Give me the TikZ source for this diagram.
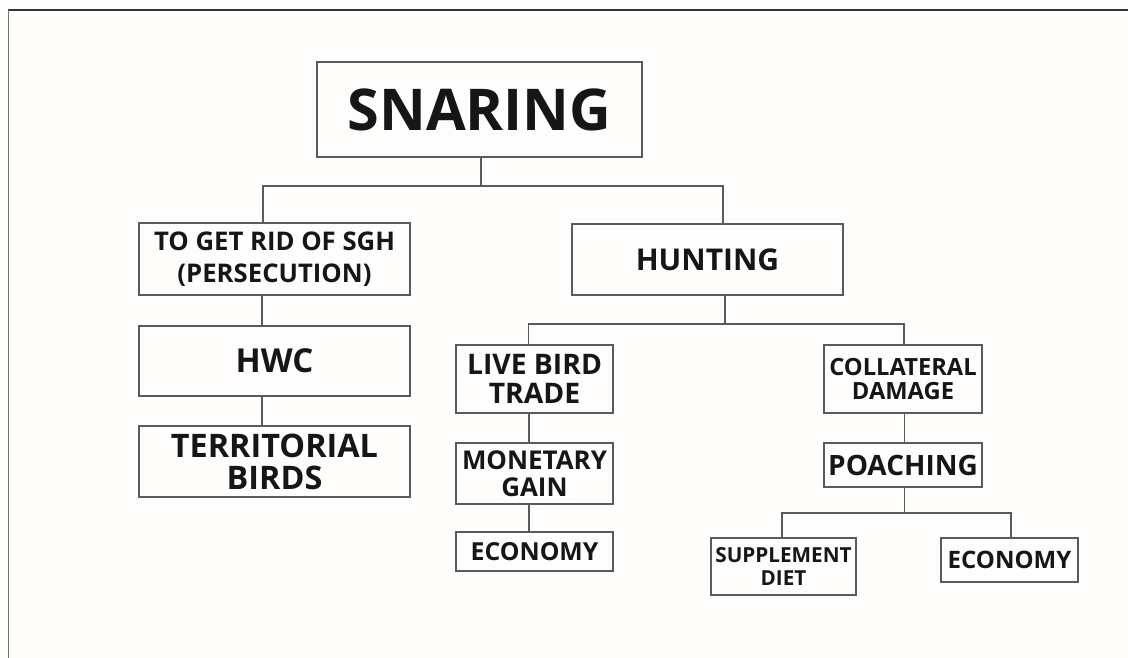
\documentclass[tikz,border=0pt]{standalone}
\usepackage{fontspec}
\setmainfont{Open Sans}
\definecolor{bg}{HTML}{FEFDFB}
\definecolor{ln}{HTML}{5A5A5A}
\definecolor{txt}{HTML}{161616}
\newcommand{\fs}[2]{\fontsize{#1}{#2}\selectfont\bfseries}
\begin{document}
\begin{tikzpicture}[x=1pt,y=-1pt,
  box/.style={draw=ln, line width=1.2pt, fill=bg, inner sep=0pt, align=center, text=txt},
  conn/.style={draw=ln, line width=1.2pt}]
\useasboundingbox[fill=bg] (0,0) rectangle (1128,658);
% frame
\draw[line width=1.4pt, draw=black!80] (8,10) -- (1128,10);
\draw[line width=1.4pt, draw=black!55] (8.5,10) -- (8.5,658);
% nodes
\node[box, minimum width=325, minimum height=95, font=\fs{57.6}{70}] (root) at (479.5,109.5) {SNARING};
\node[box, minimum width=271, minimum height=72, font=\fs{25.7}{31.7}] (persec) at (274.5,259) {TO GET RID OF SGH\\(PERSECUTION)};
\node[box, minimum width=271, minimum height=70, font=\fs{33}{38}] (hwc) at (274.5,361) {HWC};
\node[box, minimum width=271, minimum height=71, font=\fs{32.4}{32}] (terr) at (274.5,461.5) {TERRITORIAL\\BIRDS};
\node[box, minimum width=271, minimum height=71, font=\fs{30}{36}] (hunt) at (707.5,259.5) {HUNTING};
\node[box, minimum width=157, minimum height=68, font=\fs{28.3}{28.3}] (live) at (534.5,379) {LIVE BIRD\\TRADE};
\node[box, minimum width=157, minimum height=61, font=\fs{25.9}{26.7}] (mon) at (534.5,473.5) {MONETARY\\GAIN};
\node[box, minimum width=157, minimum height=39, font=\fs{24.8}{30}] (eco1) at (534.5,551.5) {ECONOMY};
\node[box, minimum width=158, minimum height=68, font=\fs{23.7}{24.3}] (coll) at (903,379) {COLLATERAL\\DAMAGE};
\node[box, minimum width=158, minimum height=44, font=\fs{28}{32}] (poach) at (903,465) {POACHING};
\node[box, minimum width=145, minimum height=57, font=\fs{20.7}{22.3}] (supp) at (783.5,566.5) {SUPPLEMENT\\DIET};
\node[box, minimum width=137, minimum height=44, font=\fs{24}{28}] (eco2) at (1009.5,560) {ECONOMY};
% connectors
\coordinate (j1) at (481,186);
\draw[conn] ([xshift=1.5]root.south) -- (j1);
\draw[conn] ([xshift=-11.5]persec.north) |- (j1) -| ([xshift=15.5]hunt.north);
\draw[conn] ([xshift=-12.5]persec.south) -- ([xshift=-12.5]hwc.north);
\draw[conn] ([xshift=-12.5]hwc.south) -- ([xshift=-12.5]terr.north);
\coordinate (j2) at (725,324);
\draw[conn] ([xshift=17.5]hunt.south) -- (j2);
\draw[conn] ([xshift=-6]live.north) |- (j2) -| ([xshift=1]coll.north);
\draw[conn] ([xshift=-5.5]live.south) -- ([xshift=-5.5]mon.north);
\draw[conn] ([xshift=-5.5]mon.south) -- ([xshift=-5.5]eco1.north);
\draw[conn] ([xshift=1.5]coll.south) -- ([xshift=1.5]poach.north);
\coordinate (j3) at (904.5,513);
\draw[conn] ([xshift=1.5]poach.south) -- (j3);
\draw[conn] ([xshift=-1.5]supp.north) |- (j3) -| ([xshift=1.5]eco2.north);
\end{tikzpicture}
\end{document}
